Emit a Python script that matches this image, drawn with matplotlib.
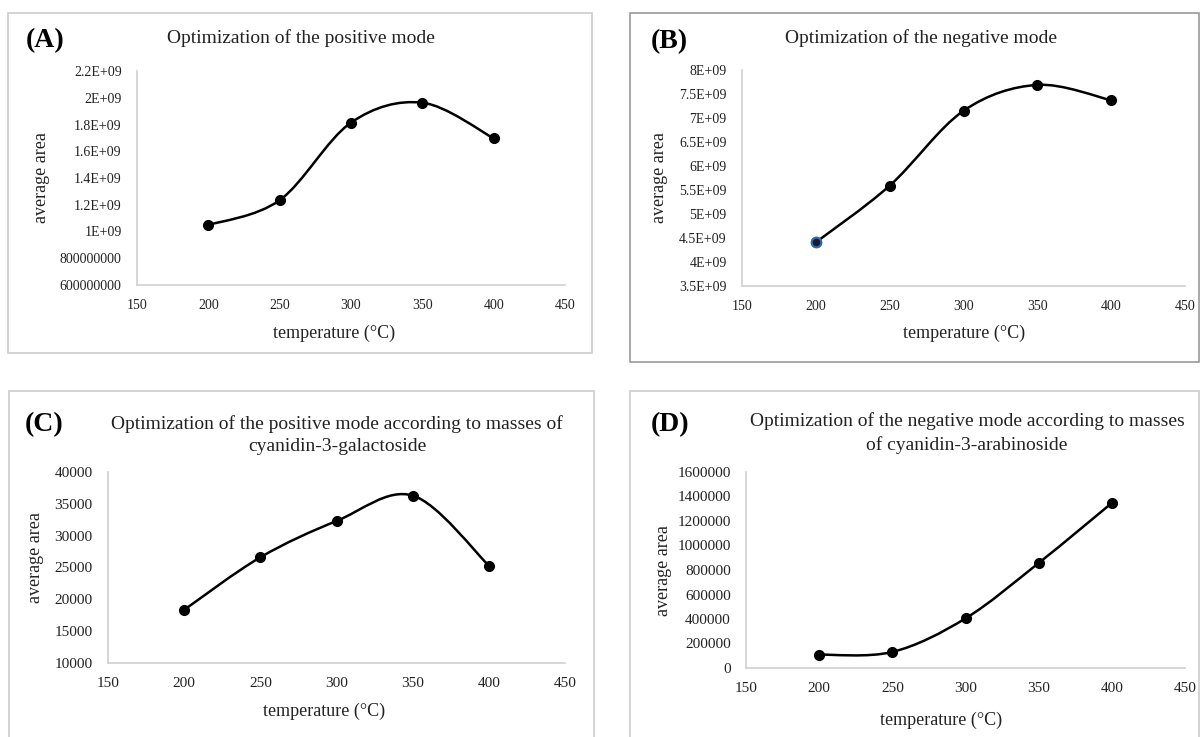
import matplotlib
matplotlib.use("Agg")
import matplotlib.pyplot as plt
from matplotlib.path import Path
from matplotlib.patches import PathPatch, Rectangle

plt.rcParams['font.family'] = ['Liberation Serif', 'DejaVu Serif']

# Data
temperature = [200, 250, 300, 350, 400]

area_pos = [1.048e9, 1.234e9, 1.814e9, 1.963e9, 1.697e9]
area_neg = [4.41e9, 5.59e9, 7.15e9, 7.69e9, 7.37e9]
area_pos_galactoside = [18350, 26600, 32300, 36300, 25300]
area_neg_arabinoside = [109000, 131000, 405000, 857000, 1347000]

x_ticks = [150, 200, 250, 300, 350, 400, 450]

yticks_a = [6e8, 8e8, 1e9, 1.2e9, 1.4e9, 1.6e9, 1.8e9, 2e9, 2.2e9]
ylabels_a = ["600000000", "800000000", "1E+09", "1.2E+09", "1.4E+09",
             "1.6E+09", "1.8E+09", "2E+09", "2.2E+09"]
yticks_b = [3.5e9, 4e9, 4.5e9, 5e9, 5.5e9, 6e9, 6.5e9, 7e9, 7.5e9, 8e9]
ylabels_b = ["3.5E+09", "4E+09", "4.5E+09", "5E+09", "5.5E+09", "6E+09",
             "6.5E+09", "7E+09", "7.5E+09", "8E+09"]
yticks_c = [10000, 15000, 20000, 25000, 30000, 35000, 40000]
ylabels_c = [str(v) for v in yticks_c]
yticks_d = [0, 200000, 400000, 600000, 800000, 1000000, 1200000, 1400000, 1600000]
ylabels_d = [str(v) for v in yticks_d]

W, H = 1200, 737
fig = plt.figure(figsize=(W / 100, H / 100), dpi=100)


def fx(x):
    return x / W


def fy(y):
    return 1 - y / H


def smooth_path(xs, ys):
    # Excel-style smoothed line: Catmull-Rom segments as cubic Beziers
    pts = list(zip(xs, ys))
    verts = [pts[0]]
    codes = [Path.MOVETO]
    n = len(pts)
    for i in range(n - 1):
        p0 = pts[i - 1] if i > 0 else pts[i]
        p1 = pts[i]
        p2 = pts[i + 1]
        p3 = pts[i + 2] if i + 2 < n else pts[i + 1]
        c1 = (p1[0] + (p2[0] - p0[0]) / 6, p1[1] + (p2[1] - p0[1]) / 6)
        c2 = (p2[0] - (p3[0] - p1[0]) / 6, p2[1] - (p3[1] - p1[1]) / 6)
        verts += [c1, c2, p2]
        codes += [Path.CURVE4] * 3
    return Path(verts, codes)


def panel(rect_px, ys, yticks, ylabels, tick_size):
    left, top, right, bottom = rect_px
    ax = fig.add_axes([fx(left), fy(bottom), fx(right - left), (bottom - top) / H])
    ax.add_patch(PathPatch(smooth_path(temperature, ys), fill=False,
                           edgecolor='black', linewidth=1.8, zorder=2))
    ax.plot(temperature, ys, 'o', color='black', markersize=7, zorder=3)
    ax.set_xlim(150, 450)
    ax.set_ylim(yticks[0], yticks[-1])
    ax.set_xticks(x_ticks)
    ax.set_xticklabels([str(t) for t in x_ticks], fontsize=tick_size)
    ax.set_yticks(yticks)
    ax.set_yticklabels(ylabels, fontsize=tick_size)
    ax.tick_params(axis='x', length=0, pad=10, colors='#222222')
    ax.tick_params(axis='y', length=0, pad=11, colors='#222222')
    for s in ['top', 'right']:
        ax.spines[s].set_visible(False)
    for s in ['left', 'bottom']:
        ax.spines[s].set_color('#d0d0d0')
        ax.spines[s].set_linewidth(1.2)
    ax.patch.set_alpha(0)
    return ax


# frames around each panel
frames = [((8, 13, 592, 353), '#cccccc'),
          ((630, 13, 1199, 362), '#999999'),
          ((9, 391, 594, 745), '#cccccc'),
          ((630, 391, 1199, 745), '#cccccc')]
for (l, t, r, b), c in frames:
    fig.patches.append(Rectangle((fx(l), fy(b)), fx(r - l), (b - t) / H,
                                 transform=fig.transFigure, fill=False,
                                 edgecolor=c, linewidth=1.2))

ax_a = panel((137, 71, 565, 285), area_pos, yticks_a, ylabels_a, 10)
ax_b = panel((742, 70, 1185, 286), area_neg, yticks_b, ylabels_b, 10)
ax_c = panel((108, 472, 565, 663), area_pos_galactoside, yticks_c, ylabels_c, 11)
ax_d = panel((746, 472, 1185, 668), area_neg_arabinoside, yticks_d, ylabels_d, 11)

# first point of panel B is drawn with a blue edge
ax_b.plot(temperature[:1], area_neg[:1], 'o', markerfacecolor='#1a1a2e',
          markeredgecolor='#2f6db5', markeredgewidth=1.5, markersize=7, zorder=4)

# panel letters
for x, y, s in [(45, 41, "(A)"), (669, 42, "(B)"), (44, 425, "(C)"), (670, 425, "(D)")]:
    fig.text(fx(x), fy(y), s, fontsize=20, fontweight='bold', ha='center', va='center')

# titles
fig.text(fx(301), fy(38), "Optimization of the positive mode", fontsize=14,
         ha='center', va='center', color='#222222')
fig.text(fx(921), fy(38), "Optimization of the negative mode", fontsize=14,
         ha='center', va='center', color='#222222')
fig.text(fx(337), fy(435), "Optimization of the positive mode according to masses of\ncyanidin-3-galactoside",
         fontsize=14, ha='center', va='center', color='#222222', linespacing=1.45)
fig.text(fx(967), fy(433), "Optimization of the negative mode according to masses\nof cyanidin-3-arabinoside",
         fontsize=14, ha='center', va='center', color='#222222', linespacing=1.45)

# axis labels
for x, y in [(334, 333), (964, 333), (324, 711), (941, 720)]:
    fig.text(fx(x), fy(y), "temperature (°C)", fontsize=13, ha='center', va='center',
             color='#222222')
for x, y in [(42, 178), (659, 178), (36, 558), (664, 571)]:
    fig.text(fx(x), fy(y), "average area", fontsize=13, ha='center', va='center',
             rotation=90, color='#222222')

fig.savefig("out.png", dpi=100)
